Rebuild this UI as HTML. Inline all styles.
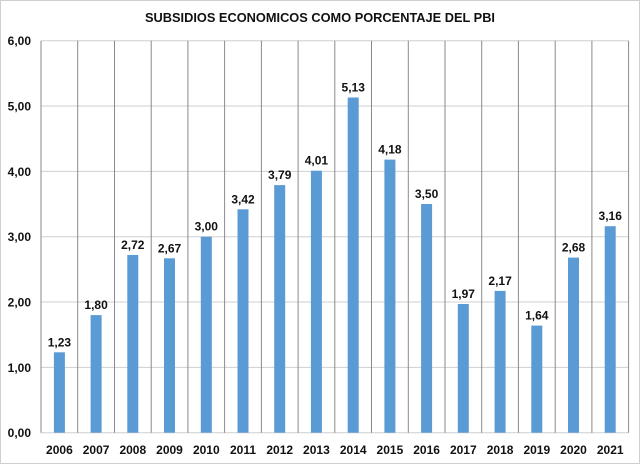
<!DOCTYPE html>
<html><head><meta charset="utf-8"><style>body{margin:0;background:#fff}svg{display:block}text{font-family:"Liberation Sans",sans-serif;font-weight:bold;fill:#111}</style></head>
<body>
<svg width="640" height="464" viewBox="0 0 640 464" xmlns="http://www.w3.org/2000/svg">
<rect x="0.5" y="0.5" width="639" height="463" fill="#fff" stroke="#d0d0d0"/>
<text x="320" y="22" font-size="13" text-anchor="middle" textLength="350" lengthAdjust="spacingAndGlyphs">SUBSIDIOS  ECONOMICOS  COMO PORCENTAJE  DEL PBI</text>
<g stroke="#cfcfcf" stroke-width="1">
<line x1="41" x2="628.6" y1="432.7" y2="432.7"/>
<line x1="41" x2="628.6" y1="367.4" y2="367.4"/>
<line x1="41" x2="628.6" y1="302" y2="302"/>
<line x1="41" x2="628.6" y1="236.7" y2="236.7"/>
<line x1="41" x2="628.6" y1="171.4" y2="171.4"/>
<line x1="41" x2="628.6" y1="106" y2="106"/>
<line x1="41" x2="628.6" y1="40.7" y2="40.7"/>
</g>
<g stroke="#8a8a8a" stroke-width="1">
<line x1="41" x2="41" y1="40.7" y2="432.7"/>
<line x1="77.7" x2="77.7" y1="40.7" y2="432.7"/>
<line x1="114.5" x2="114.5" y1="40.7" y2="432.7"/>
<line x1="151.2" x2="151.2" y1="40.7" y2="432.7"/>
<line x1="187.9" x2="187.9" y1="40.7" y2="432.7"/>
<line x1="224.6" x2="224.6" y1="40.7" y2="432.7"/>
<line x1="261.4" x2="261.4" y1="40.7" y2="432.7"/>
<line x1="298.1" x2="298.1" y1="40.7" y2="432.7"/>
<line x1="334.8" x2="334.8" y1="40.7" y2="432.7"/>
<line x1="371.5" x2="371.5" y1="40.7" y2="432.7"/>
<line x1="408.3" x2="408.3" y1="40.7" y2="432.7"/>
<line x1="445" x2="445" y1="40.7" y2="432.7"/>
<line x1="481.7" x2="481.7" y1="40.7" y2="432.7"/>
<line x1="518.4" x2="518.4" y1="40.7" y2="432.7"/>
<line x1="555.2" x2="555.2" y1="40.7" y2="432.7"/>
<line x1="591.9" x2="591.9" y1="40.7" y2="432.7"/>
<line x1="628.6" x2="628.6" y1="40.7" y2="432.7"/>
</g>
<g font-size="12" text-anchor="end">
<text x="31" y="437.2">0,00</text>
<text x="31" y="371.9">1,00</text>
<text x="31" y="306.5">2,00</text>
<text x="31" y="241.2">3,00</text>
<text x="31" y="175.9">4,00</text>
<text x="31" y="110.5">5,00</text>
<text x="31" y="45.2">6,00</text>
</g>
<g fill="#5b9bd5">
<rect x="53.9" y="352.3" width="11" height="80.4"/>
<rect x="90.6" y="315.1" width="11" height="117.6"/>
<rect x="127.3" y="255" width="11" height="177.7"/>
<rect x="164" y="258.3" width="11" height="174.4"/>
<rect x="200.8" y="236.7" width="11" height="196"/>
<rect x="237.5" y="209.3" width="11" height="223.4"/>
<rect x="274.2" y="185.1" width="11" height="247.6"/>
<rect x="310.9" y="170.7" width="11" height="262"/>
<rect x="347.7" y="97.5" width="11" height="335.2"/>
<rect x="384.4" y="159.6" width="11" height="273.1"/>
<rect x="421.1" y="204" width="11" height="228.7"/>
<rect x="457.8" y="304" width="11" height="128.7"/>
<rect x="494.6" y="290.9" width="11" height="141.8"/>
<rect x="531.3" y="325.6" width="11" height="107.1"/>
<rect x="568" y="257.6" width="11" height="175.1"/>
<rect x="604.7" y="226.2" width="11" height="206.5"/>
</g>
<g font-size="12" text-anchor="middle">
<text x="59.4" y="346.3">1,23</text>
<text x="96.1" y="309.1">1,80</text>
<text x="132.8" y="249">2,72</text>
<text x="169.5" y="252.3">2,67</text>
<text x="206.3" y="230.7">3,00</text>
<text x="243" y="203.3">3,42</text>
<text x="279.7" y="179.1">3,79</text>
<text x="316.4" y="164.7">4,01</text>
<text x="353.2" y="91.5">5,13</text>
<text x="389.9" y="153.6">4,18</text>
<text x="426.6" y="198">3,50</text>
<text x="463.3" y="298">1,97</text>
<text x="500.1" y="284.9">2,17</text>
<text x="536.8" y="319.6">1,64</text>
<text x="573.5" y="251.6">2,68</text>
<text x="610.2" y="220.2">3,16</text>
</g>
<g font-size="12" text-anchor="middle">
<text x="59.4" y="454">2006</text>
<text x="96.1" y="454">2007</text>
<text x="132.8" y="454">2008</text>
<text x="169.5" y="454">2009</text>
<text x="206.3" y="454">2010</text>
<text x="243" y="454">2011</text>
<text x="279.7" y="454">2012</text>
<text x="316.4" y="454">2013</text>
<text x="353.2" y="454">2014</text>
<text x="389.9" y="454">2015</text>
<text x="426.6" y="454">2016</text>
<text x="463.3" y="454">2017</text>
<text x="500.1" y="454">2018</text>
<text x="536.8" y="454">2019</text>
<text x="573.5" y="454">2020</text>
<text x="610.2" y="454">2021</text>
</g>
</svg>
</body></html>
